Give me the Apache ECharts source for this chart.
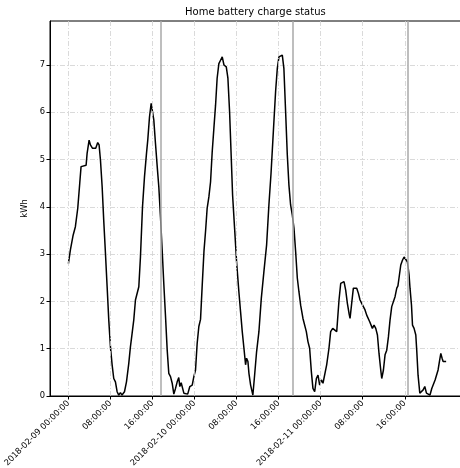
<!DOCTYPE html>
<html>
<head>
<meta charset="utf-8">
<script src="https://cdn.jsdelivr.net/npm/echarts@6/dist/echarts.min.js"></script>
<style>html,body{margin:0;padding:0;background:#fff;}#c{width:460px;height:468px;}</style>
</head>
<body>
<div id="c"></div>
<script>
// hours since 2018-02-09 00:00:00
const hoursSinceStart = [0,0.38,0.9,1.33,1.78,2.16,2.41,2.79,3.37,3.56,3.94,4.19,4.57,4.95,5.2,5.58,5.84,6.1,6.42,6.72,7.05,7.37,7.68,8.0,8.32,8.63,8.95,9.27,9.58,9.9,10.2,10.67,11.05,11.49,11.8,12.13,12.44,12.76,13.08,13.4,13.71,14.1,14.48,14.86,15.1,15.43,15.75,16.0,16.25,16.57,16.9,17.2,17.52,17.84,18.15,18.48,18.8,19.1,19.43,19.75,20.06,20.38,20.7,21.0,21.2,21.46,21.7,21.97,22.3,22.7,23.1,23.56,23.87,24.19,24.5,24.82,25.14,25.47,25.8,26.1,26.4,26.73,27.05,27.36,27.68,28.0,28.3,28.63,28.95,29.27,29.6,30.04,30.35,30.67,30.99,31.24,31.62,32.0,32.44,32.76,33.08,33.4,33.71,33.9,34.16,34.35,34.67,34.86,35.1,35.43,35.81,36.25,36.7,37.2,37.71,38.15,38.55,38.85,39.1,39.43,39.75,40.06,40.38,40.7,41.0,41.33,41.65,41.96,42.28,42.6,42.92,43.24,43.56,43.87,44.19,44.63,45.0,45.27,45.58,45.9,46.23,46.53,46.86,47.18,47.49,47.81,48.13,48.44,48.76,49.14,49.58,49.9,50.29,50.67,51.05,51.2,51.49,51.81,52.13,52.44,52.76,53.08,53.39,53.59,53.9,54.22,54.53,54.86,55.18,55.49,55.81,56.13,56.44,56.76,57.08,57.33,57.65,57.84,58.15,58.48,58.8,59.1,59.43,59.62,59.94,60.25,60.57,60.89,61.2,61.52,61.85,62.15,62.48,62.7,62.9,63.24,63.56,63.87,64.19,64.5,64.82,65.0,65.28,65.47,65.77,66.1,66.29,66.53,66.86,67.18,67.5,67.81,68.13,68.44,68.8,69.14,69.46,69.77,70.1,70.34,70.6,70.86,71.1,71.3,71.56,71.87];
const kwh = [2.80,3.09,3.40,3.58,3.97,4.50,4.85,4.88,4.88,5.13,5.41,5.31,5.24,5.27,5.24,5.36,5.31,4.99,4.43,3.72,3.02,2.31,1.61,1.04,0.66,0.37,0.30,0.09,0.02,0.07,0.02,0.09,0.30,0.69,1.04,1.33,1.61,2.03,2.06,2.31,2.94,4.00,4.64,5.13,5.41,5.90,6.19,6.19,5.84,5.34,4.85,4.43,3.79,3.09,2.38,1.68,0.97,0.48,0.41,0.27,0.04,0.16,0.30,0.39,0.20,0.28,0.27,0.06,0.04,0.04,0.20,0.23,0.41,0.55,1.11,1.47,1.62,2.36,3.07,3.49,3.97,4.21,4.53,5.16,5.66,6.15,6.72,7.03,7.10,7.17,7.00,6.96,6.72,6.01,5.03,4.25,3.55,2.84,2.20,1.78,1.36,1.01,0.66,0.80,0.73,0.48,0.23,0.20,0.02,0.44,0.94,1.36,2.06,2.63,3.19,4.04,4.70,5.30,5.80,6.45,6.93,7.17,7.14,7.21,6.93,6.01,5.10,4.46,4.04,3.83,3.55,3.05,2.49,2.20,1.92,1.64,1.61,1.36,1.15,1.01,0.51,0.16,0.09,0.37,0.44,0.23,0.34,0.27,0.30,0.66,1.01,1.36,1.43,1.43,1.36,1.40,2.03,2.38,2.35,2.42,2.24,1.96,1.75,1.64,1.96,2.28,2.24,2.28,2.17,2.03,1.96,1.96,1.82,1.71,1.68,1.57,1.54,1.43,1.50,1.43,1.29,0.90,0.55,0.37,0.55,0.87,0.97,1.25,1.61,1.89,1.92,2.10,2.28,2.33,2.49,2.77,2.87,2.94,2.94,2.84,2.56,2.28,1.92,1.50,1.43,1.29,0.94,0.44,0.06,0.04,0.13,0.20,0.06,0.04,0.02,0.16,0.20,0.34,0.30,0.55,0.73,0.90,0.80,0.73,0.76,0.73];
const xTickHours = [0,8,16,24,32,40,48,56,64];
const yTicks = [0,1,2,3,4,5,6,7];
const markerHours = [17.52,42.67,64.57];
const xRange = [-3.5, 74.7];
const yRange = [0, 7.93];
const startDay = 9;

const seriesData = hoursSinceStart.map((h,i)=>[h,kwh[i]]);
const pad = n => (n<10?'0':'')+n;
function fmtX(h){
  h = Math.round(h);
  if (h % 24 === 0) return '2018-02-' + pad(startDay + h/24) + ' 00:00:00';
  return pad(h % 24) + ':00:00';
}
const FONT = 'DejaVu Sans';
const gridDash = [5,2,1,2];
const chart = echarts.init(document.getElementById('c'), null, {renderer:'canvas'});
chart.setOption({
  animation:false,
  backgroundColor:'#fff',
  title:{text:'Home battery charge status', left:185, top:7, padding:0,
    textStyle:{fontFamily:FONT, fontSize:10, fontWeight:'normal', color:'#000'}},
  grid:{left:50, right:-1, top:21, bottom:72, containLabel:false, outerBoundsMode:'none',
    show:true, borderColor:'#000', borderWidth:1, backgroundColor:'transparent'},
  xAxis:{type:'value', min:xRange[0], max:xRange[1],
    axisLine:{show:true, onZero:false, lineStyle:{color:'#000', width:1}},
    axisTick:{show:true, customValues:xTickHours, length:3.5, lineStyle:{color:'#000'}},
    axisLabel:{customValues:xTickHours, rotate:45, margin:6, fontFamily:FONT, fontSize:8.33, color:'#000', formatter:fmtX},
    splitLine:{show:false}},
  yAxis:{type:'value', min:yRange[0], max:yRange[1], interval:1,
    name:'kWh', nameLocation:'middle', nameGap:9, nameTextStyle:{fontFamily:FONT, fontSize:8.33, color:'#000'},
    axisLine:{show:true, onZero:false, lineStyle:{color:'#000', width:1}},
    axisTick:{show:true, customValues:yTicks, length:3.5, lineStyle:{color:'#000'}},
    axisLabel:{customValues:yTicks, margin:5, fontFamily:FONT, fontSize:8.33, color:'#000'},
    splitLine:{show:true, lineStyle:{color:'#d0d0d0', width:0.8, type:gridDash}}},
  series:[
    {type:'line', data:[], z:1, silent:true,
      markLine:{silent:true, symbol:'none', animation:false, label:{show:false},
        lineStyle:{color:'#d0d0d0', width:0.8, type:gridDash},
        data:xTickHours.map(h=>({xAxis:h}))}},
    {type:'line', data:[], z:2, silent:true,
      markLine:{silent:true, symbol:'none', animation:false, label:{show:false},
        lineStyle:{color:'#a8a8a8', width:1.5, type:'solid'},
        data:markerHours.map(h=>({xAxis:h}))}},
    {type:'line', data:seriesData, z:3, showSymbol:false, symbol:'none',
      lineStyle:{color:'#000', width:1.5}}
  ]
});
</script>
</body>
</html>
